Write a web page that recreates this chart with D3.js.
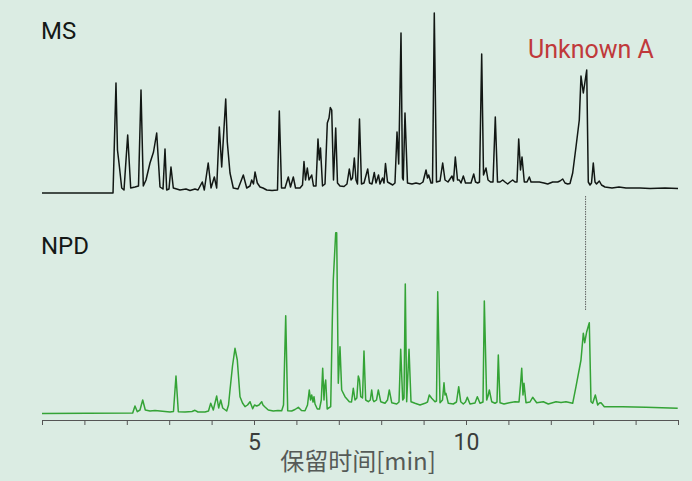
<!DOCTYPE html>
<html>
<head>
<meta charset="utf-8">
<script src="https://cdn.jsdelivr.net/npm/d3@7"></script>
<style>
  html, body { margin: 0; padding: 0; background: #dbece3; }
  svg { display: block; }
</style>
</head>
<body>
<svg id="chart" width="692" height="481"></svg>
<script>
// ---- data (retention time in min, detector response in arbitrary units) ----
const msTime = [0, 1.675, 1.745, 1.78, 1.816, 1.88, 1.934, 2.021, 2.092, 2.193, 2.276, 2.335, 2.389, 2.453, 2.547, 2.63, 2.705, 2.783, 2.854, 2.901, 2.941, 2.995, 3.042, 3.097, 3.255, 3.396, 3.49, 3.608, 3.68, 3.78, 3.828, 3.92, 3.986, 4.064, 4.12, 4.182, 4.238, 4.333, 4.37, 4.434, 4.512, 4.623, 4.748, 4.828, 4.906, 4.946, 4.988, 5.024, 5.078, 5.142, 5.212, 5.3, 5.425, 5.554, 5.597, 5.649, 5.731, 5.809, 5.861, 5.927, 5.979, 6.085, 6.144, 6.179, 6.215, 6.257, 6.297, 6.361, 6.403, 6.462, 6.509, 6.54, 6.568, 6.616, 6.675, 6.729, 6.769, 6.8, 6.833, 6.875, 6.927, 6.969, 7.028, 7.123, 7.193, 7.248, 7.288, 7.323, 7.366, 7.406, 7.441, 7.488, 7.535, 7.594, 7.682, 7.724, 7.783, 7.837, 7.877, 7.936, 7.972, 8.031, 8.066, 8.101, 8.149, 8.271, 8.325, 8.373, 8.413, 8.467, 8.502, 8.521, 8.561, 8.62, 8.726, 8.821, 8.915, 8.986, 9.057, 9.092, 9.12, 9.175, 9.21, 9.252, 9.304, 9.387, 9.45, 9.505, 9.575, 9.67, 9.705, 9.748, 9.8, 9.842, 9.882, 9.937, 9.988, 10.04, 10.118, 10.182, 10.224, 10.276, 10.318, 10.37, 10.413, 10.472, 10.519, 10.578, 10.637, 10.691, 10.743, 10.802, 10.866, 10.92, 10.983, 11.038, 11.101, 11.156, 11.203, 11.243, 11.285, 11.321, 11.375, 11.439, 11.493, 11.533, 11.604, 11.729, 11.84, 11.927, 12.045, 12.163, 12.217, 12.281, 12.335, 12.399, 12.453, 12.516, 12.594, 12.672, 12.712, 12.767, 12.847, 12.884, 12.925, 12.96, 13.002, 13.042, 13.078, 13.144, 13.196, 13.278, 13.443, 13.608, 13.774, 14.104, 14.34, 14.693, 15.0];
const msSignal = [0, 0, 110, 43, 30, 5, 3, 58, 5, 6, 7, 103, 7, 13, 30, 41, 60, 6, 4, 44, 3, 4, 26, 5, 3, 4, 2.5, 4, 3, 11, 3, 30, 5, 16, 5, 66, 26, 94, 51, 20, 5, 4, 18, 5, 7, 13, 9, 21, 10, 6, 5, 3, 2.5, 3, 82, 5, 5, 16, 6, 16, 5, 5, 8, 31.5, 13, 25, 13, 18, 7, 7, 54, 33, 45, 7, 9, 70, 75, 85.5, 83, 13, 65, 10, 7, 6.5, 9, 24, 13, 15, 35, 13, 9, 74, 9, 10, 24, 10, 9, 20.5, 10, 18, 9, 15, 10, 29.5, 11, 8, 10, 61, 29, 160, 15, 13, 80, 10, 9, 10, 9, 11, 23, 15, 18, 10, 10, 180, 11, 12, 30, 13, 11, 17, 12, 36, 13, 13, 10, 17, 10, 10, 10, 19, 11, 10, 11, 139, 18, 25, 13, 11, 11, 76, 11, 11, 13, 11, 9, 11, 13, 11, 11, 54, 23, 36, 11, 11, 16, 11, 11, 11, 10, 9, 11, 11, 12, 14, 10, 9, 9.5, 20, 46, 73, 117, 100, 123, 11, 8, 10, 30, 11, 9, 12, 8, 6, 5, 6, 5, 5, 4.5, 5, 4.5];

const npdTime = [0, 2.139, 2.193, 2.248, 2.311, 2.375, 2.436, 2.547, 2.665, 2.783, 2.901, 3.019, 3.101, 3.16, 3.215, 3.373, 3.538, 3.608, 3.679, 3.844, 3.927, 3.979, 4.04, 4.12, 4.167, 4.215, 4.262, 4.356, 4.399, 4.434, 4.493, 4.552, 4.606, 4.67, 4.729, 4.788, 4.847, 4.906, 4.969, 5.012, 5.064, 5.118, 5.182, 5.212, 5.259, 5.337, 5.455, 5.566, 5.653, 5.696, 5.748, 5.795, 5.889, 5.967, 6.045, 6.12, 6.203, 6.262, 6.304, 6.333, 6.361, 6.392, 6.415, 6.439, 6.493, 6.545, 6.587, 6.62, 6.651, 6.667, 6.691, 6.726, 6.809, 6.847, 6.87, 6.927, 6.95, 6.988, 7.028, 7.068, 7.146, 7.248, 7.3, 7.342, 7.382, 7.425, 7.46, 7.488, 7.517, 7.559, 7.594, 7.634, 7.696, 7.743, 7.776, 7.807, 7.83, 7.889, 7.932, 7.988, 8.09, 8.149, 8.191, 8.248, 8.366, 8.42, 8.46, 8.507, 8.538, 8.568, 8.601, 8.656, 8.703, 8.797, 8.915, 9.033, 9.092, 9.134, 9.191, 9.269, 9.304, 9.333, 9.387, 9.446, 9.481, 9.505, 9.528, 9.583, 9.7, 9.776, 9.828, 9.875, 9.936, 9.988, 10.031, 10.094, 10.212, 10.267, 10.33, 10.401, 10.432, 10.488, 10.519, 10.55, 10.606, 10.684, 10.731, 10.762, 10.802, 10.896, 11.021, 11.156, 11.25, 11.285, 11.314, 11.344, 11.368, 11.415, 11.509, 11.573, 11.667, 11.823, 11.941, 12.123, 12.241, 12.358, 12.516, 12.594, 12.712, 12.767, 12.8, 12.847, 12.908, 12.948, 12.988, 13.05, 13.106, 13.148, 13.184, 13.262, 13.696, 14.245, 14.993];
const npdSignal = [0.5, 1, 8, 2.3, 4, 14, 4, 3, 3.5, 3, 2.5, 2, 2.5, 38, 2.3, 2, 2.5, 3.7, 2, 2, 3, 10.7, 4, 18, 6, 14, 6, 3, 9, 24, 48, 65.7, 54, 17.3, 11, 7.3, 9, 12.3, 5.3, 9, 8, 9, 12.3, 9, 7, 4, 3, 3.5, 3.3, 9, 98.3, 3.3, 3, 4.5, 6.7, 3.5, 3.3, 9, 24, 14, 19, 12, 17.3, 10, 5, 5, 14, 45.7, 14, 27.3, 34, 5, 7.3, 94, 134, 181.3, 181.3, 30.7, 67.3, 24, 17.3, 12.3, 12, 25.7, 14, 16, 38, 34, 17.3, 16, 63, 14, 12.3, 14, 24, 14, 12.3, 14, 24, 12.3, 10.7, 14, 24, 11.3, 10, 12, 64.7, 14, 16, 130, 12.3, 64.7, 12.3, 10.7, 9, 10.7, 12, 19, 15.7, 12.3, 13, 122.3, 11.3, 14, 31.3, 19, 20.7, 10.7, 10, 12, 27.3, 12.3, 10, 12, 16.7, 10, 11, 17.3, 10.7, 12, 113, 14, 18, 24, 12.3, 10.7, 12, 59, 11.3, 10, 11.3, 12.3, 12, 29, 45.7, 19, 30.7, 11.3, 12, 16.7, 11.3, 12.3, 10, 12.3, 11.5, 12.3, 10.7, 27.3, 54, 80.7, 71.3, 82.3, 91.3, 12.3, 10.7, 19, 9, 11, 11.3, 7.3, 7.3, 6.7, 5.7];

const axisTicks = [0, 1, 2, 3, 4, 5, 6, 7, 8, 9, 10, 11, 12, 13, 14, 15];
const labeledTicks = [5, 10];
const traceLabels = ["MS", "NPD"];
const peakLabel = "Unknown A";
const peakTime = 12.82;
const xTitle = "保留时间[min]";

// ---- drawing ----
const svg = d3.select("#chart");
const x = d3.scaleLinear().domain([0, 15]).range([42, 678]);
const yMS = d3.scaleLinear().domain([0, 180]).range([193, 13]);
const yNPD = d3.scaleLinear().domain([0, 180]).range([414, 234]);

const msData = msTime.map((t, i) => [t, msSignal[i]]);
const npdData = npdTime.map((t, i) => [t, npdSignal[i]]);

svg.append("path")
  .datum(msData)
  .attr("fill", "none")
  .attr("stroke", "#121714")
  .attr("stroke-width", 1.5)
  .attr("stroke-linejoin", "round")
  .attr("d", d3.line().x(d => x(d[0])).y(d => yMS(d[1])));

svg.append("path")
  .datum(npdData)
  .attr("fill", "none")
  .attr("stroke", "#34a336")
  .attr("stroke-width", 1.5)
  .attr("stroke-linejoin", "round")
  .attr("d", d3.line().x(d => x(d[0])).y(d => yNPD(d[1])));

// dotted connector for Unknown A
svg.append("line")
  .attr("x1", x(peakTime)).attr("x2", x(peakTime))
  .attr("y1", yMS(0) + 3).attr("y2", yNPD(0) - 104)
  .attr("stroke", "#555")
  .attr("stroke-width", 0.9)
  .attr("stroke-dasharray", "1.5,1");

// axis
const axisG = svg.append("g").attr("transform", "translate(0,420)");
axisG.call(d3.axisBottom(x).tickValues(axisTicks).tickSize(5).tickSizeOuter(0)
  .tickFormat(d => labeledTicks.includes(d) ? d : ""));
axisG.select(".domain").attr("stroke", "#555").attr("stroke-width", 1);
axisG.selectAll(".tick line").attr("stroke", "#555");
axisG.selectAll(".tick text")
  .attr("font-family", "Roboto, sans-serif")
  .attr("font-size", 23)
  .attr("fill", "#3a3d3b")
  .attr("dy", 0)
  .attr("y", 30);

svg.append("text")
  .attr("x", 358).attr("y", 470)
  .attr("text-anchor", "middle")
  .attr("font-family", "'Noto Sans CJK SC', sans-serif")
  .attr("font-size", 24)
  .attr("fill", "#555a57")
  .text(xTitle);

svg.append("text")
  .attr("x", 41).attr("y", 39)
  .attr("font-family", "Roboto, sans-serif")
  .attr("font-size", 24)
  .attr("fill", "#141816")
  .text(traceLabels[0]);

svg.append("text")
  .attr("x", 41).attr("y", 254)
  .attr("font-family", "Roboto, sans-serif")
  .attr("font-size", 24)
  .attr("fill", "#141816")
  .text(traceLabels[1]);

svg.append("text")
  .attr("x", 528).attr("y", 58)
  .attr("font-family", "Roboto, sans-serif")
  .attr("font-size", 25)
  .attr("fill", "#c0393b")
  .text(peakLabel);
</script>
</body>
</html>
